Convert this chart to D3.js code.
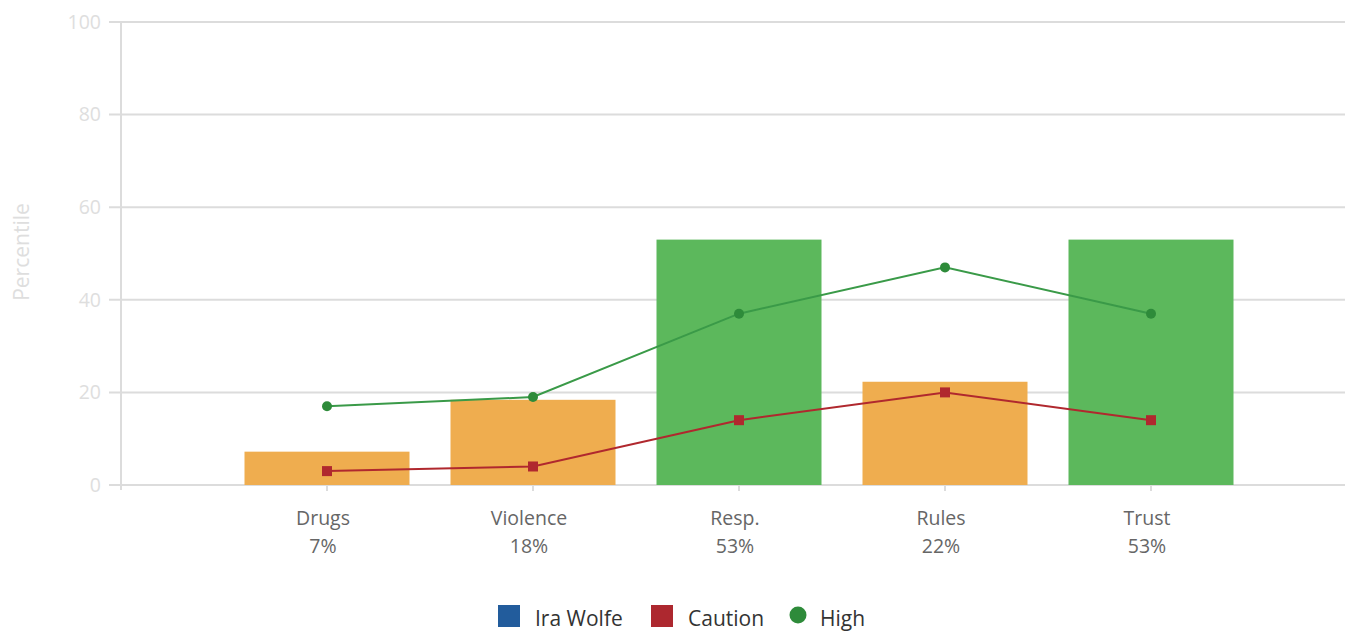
<!DOCTYPE html>
<html>
<head>
<meta charset="utf-8">
<script src="https://cdn.jsdelivr.net/npm/d3@7"></script>
<style>
  body { margin: 0; background: #fff; font-family: "Open Sans", sans-serif; }
  svg { display: block; }
</style>
</head>
<body>
<svg id="chart"></svg>
<script>
const categories = ['Drugs', 'Violence', 'Resp.', 'Rules', 'Trust'];
const percentLabels = ['7%', '18%', '53%', '22%', '53%'];
const scores = [7.2, 18.4, 53, 22.3, 53];
const barLevels = ['caution', 'caution', 'high', 'caution', 'high'];
const cautionValues = [3, 4, 14, 20, 14];
const highValues = [17, 19, 37, 47, 37];
const yTicks = [0, 20, 40, 60, 80, 100];
const legendItems = ['Ira Wolfe', 'Caution', 'High'];

const width = 1345;
const height = 633;
const plotLeft = 121;
const plotTop = 22;
const plotBottom = 485;

const svg = d3.select('#chart').attr('width', width).attr('height', height);

// empty slot before the first category, like the original
const xScale = d3.scaleLinear().domain([0, categories.length + 1]).range([plotLeft, plotLeft + 206 * 6]);
const yScale = d3.scaleLinear().domain([0, 100]).range([plotBottom, plotTop]);
const barWidth = 165;

const barColor = { caution: '#efad4f', high: '#5cb85c' };

// grid lines
svg.append('g')
  .selectAll('line')
  .data(yTicks)
  .enter()
  .append('line')
  .attr('x1', plotLeft - 12)
  .attr('x2', width)
  .attr('y1', d => yScale(d))
  .attr('y2', d => yScale(d))
  .attr('stroke', '#dcdcdc')
  .attr('stroke-width', 2);

// y axis
const yAxis = d3.axisLeft(yScale).tickValues(yTicks).tickSize(0).tickPadding(20);
const yg = svg.append('g').attr('transform', 'translate(' + plotLeft + ',0)').call(yAxis);
yg.select('.domain').remove();
yg.selectAll('text')
  .attr('fill', '#dedede')
  .style('font-size', '19.5px')
  .style('font-family', '"Open Sans", sans-serif');

svg.append('line')
  .attr('x1', plotLeft).attr('x2', plotLeft)
  .attr('y1', plotTop).attr('y2', plotBottom + 5)
  .attr('stroke', '#dcdcdc').attr('stroke-width', 2);

svg.append('text')
  .attr('transform', 'translate(29,252) rotate(-90)')
  .attr('text-anchor', 'middle')
  .attr('fill', '#dedede')
  .style('font-size', '21px')
  .text('Percentile');

// bars
svg.append('g')
  .selectAll('rect')
  .data(scores)
  .enter()
  .append('rect')
  .attr('x', (d, i) => xScale(i + 1) - barWidth / 2)
  .attr('width', barWidth)
  .attr('y', d => yScale(d))
  .attr('height', d => yScale(0) - yScale(d))
  .attr('fill', (d, i) => barColor[barLevels[i]]);

// x axis ticks
svg.append('g')
  .selectAll('line')
  .data(categories)
  .enter()
  .append('line')
  .attr('x1', (d, i) => xScale(i + 1))
  .attr('x2', (d, i) => xScale(i + 1))
  .attr('y1', plotBottom)
  .attr('y2', plotBottom + 6)
  .attr('stroke', '#dcdcdc')
  .attr('stroke-width', 2);

const labels = svg.append('g')
  .selectAll('text')
  .data(categories)
  .enter()
  .append('text')
  .attr('x', (d, i) => xScale(i + 1) - 4)
  .attr('text-anchor', 'middle')
  .attr('fill', '#666')
  .style('font-size', '19.5px');
labels.append('tspan').attr('y', 525).text(d => d);
labels.append('tspan')
  .attr('x', (d, i) => xScale(i + 1) - 4)
  .attr('y', 553)
  .text((d, i) => percentLabels[i]);

// lines
const line = d3.line().x((d, i) => xScale(i + 1)).y(d => yScale(d));

svg.append('path')
  .datum(highValues)
  .attr('d', line)
  .attr('fill', 'none')
  .attr('stroke', '#3a9a48')
  .attr('stroke-width', 2);

svg.append('path')
  .datum(cautionValues)
  .attr('d', line)
  .attr('fill', 'none')
  .attr('stroke', '#b0282e')
  .attr('stroke-width', 2);

svg.append('g')
  .selectAll('circle')
  .data(highValues)
  .enter()
  .append('circle')
  .attr('cx', (d, i) => xScale(i + 1))
  .attr('cy', d => yScale(d))
  .attr('r', 5)
  .attr('fill', '#2e8b3a');

svg.append('g')
  .selectAll('rect')
  .data(cautionValues)
  .enter()
  .append('rect')
  .attr('x', (d, i) => xScale(i + 1) - 5)
  .attr('y', d => yScale(d) - 5)
  .attr('width', 10)
  .attr('height', 10)
  .attr('fill', '#b0282e');

// legend
const legendX = [498, 651, 790];
const legendColors = ['#225c9c', '#ad282f', '#2e8b3a'];
const legend = svg.append('g')
  .selectAll('g')
  .data(legendItems)
  .enter()
  .append('g')
  .attr('transform', (d, i) => 'translate(' + legendX[i] + ',605)');

legend.filter((d, i) => i < 2)
  .append('rect')
  .attr('width', 22)
  .attr('height', 22)
  .attr('fill', (d, i) => legendColors[i]);

legend.filter((d, i) => i === 2)
  .append('circle')
  .attr('cx', 8)
  .attr('cy', 10)
  .attr('r', 8.5)
  .attr('fill', legendColors[2]);

legend.append('text')
  .attr('x', (d, i) => i < 2 ? 37 : 30)
  .attr('y', 21)
  .attr('fill', '#333')
  .style('font-size', '21px')
  .text(d => d);
</script>
</body>
</html>
